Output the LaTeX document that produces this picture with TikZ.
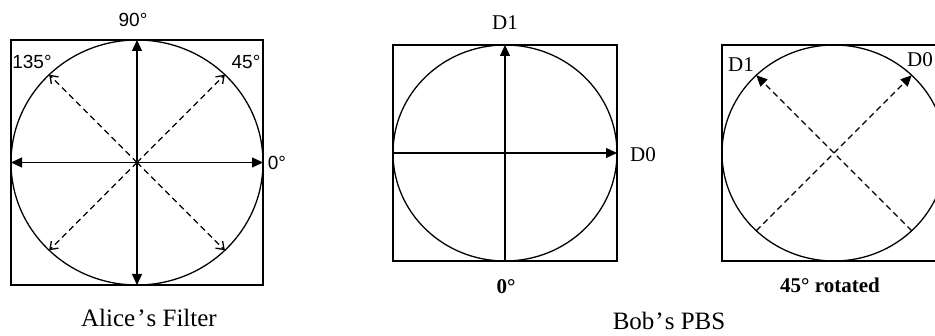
\documentclass[tikz,border=0pt]{standalone}
\usepackage{fontspec}
\setmainfont{Liberation Serif}
\newfontfamily\arialfont{Liberation Sans}
\usetikzlibrary{arrows.meta,shapes.geometric}
\tikzset{
  frame/.style={draw, line width=1.3pt, inner sep=0pt, outer sep=0pt},
  ring/.style={draw, ellipse, line width=1.3pt, inner sep=0pt, outer sep=0pt},
  solidarrow/.style={line width=1.2pt, -{Triangle[length=11pt,width=10pt]}},
  bothsolid/.style={line width=1.2pt, {Triangle[length=11pt,width=10pt]}-{Triangle[length=11pt,width=10pt]}},
  dasharrow/.style={line width=1.3pt, dash pattern=on 6pt off 4pt, -{Straight Barb[length=7pt,width=10pt]}},
  dashfilled/.style={line width=1.3pt, dash pattern=on 6pt off 4pt, -{Triangle[length=11pt,width=10pt]}},
  alab/.style={font=\arialfont\fontsize{19}{19}\selectfont, inner sep=0pt},
  dlab/.style={font=\fontsize{21}{21}\selectfont, inner sep=0pt},
  blab/.style={font=\bfseries\fontsize{21}{21}\selectfont, inner sep=0pt},
  caption/.style={font=\fontsize{25}{25}\selectfont, inner sep=0pt}
}
\begin{document}
\begin{tikzpicture}[x=1pt,y=-1pt]
\useasboundingbox (0,0) rectangle (935,336);
\clip (0,0) rectangle (935,336);
% ---------- Alice ----------
\node[frame, minimum width=252pt, minimum height=245pt] (abox) at (137,162.5) {};
\node[ring, minimum width=252pt, minimum height=245pt] (aring) at (137,162.5) {};
\coordinate (ac) at (137,162.5);
\draw[bothsolid] (aring.west) -- (aring.east);
\draw[bothsolid] (aring.south) -- (aring.north);
\draw[dasharrow] (ac) -- (aring.45);
\draw[dasharrow] (ac) -- (aring.135);
\draw[dasharrow] (ac) -- (aring.225);
\draw[dasharrow] (ac) -- (aring.315);
\node[alab] (a90) at (133,20) {90°};
\node[alab] (a135) at (32,62) {135°};
\node[alab] (a45) at (246,62) {45°};
\node[alab] (a0) at (277,163) {0°};
\node[caption] (acap) at (149,318) {Alice\kern2pt’\kern1pt s Filter};
% ---------- Bob box 1 ----------
\node[frame, minimum width=224pt, minimum height=216pt] (bbox) at (505,153) {};
\node[ring, minimum width=224pt, minimum height=216pt] (bring) at (505,153) {};
\draw[solidarrow] (bring.south) -- (bring.north);
\draw[solidarrow] (bring.west) -- (bring.east);
\node[dlab] (bd1) at (505,23) {D1};
\node[dlab] (bd0) at (643,155) {D0};
\node[blab] (b0) at (506,287) {0°};
% ---------- Bob box 2 ----------
\node[frame, minimum width=224pt, minimum height=216pt] (cbox) at (834,153) {};
\node[ring, minimum width=224pt, minimum height=216pt] (cring) at (834,153) {};
\draw[dashfilled] (cring.225) -- (cring.45);
\draw[dashfilled] (cring.315) -- (cring.135);
\node[dlab] (cd1) at (741,65) {D1};
\node[dlab] (cd0) at (920,60) {D0};
\node[blab] (c45) at (830,285) {45° rotated};
\node[caption] (bcap) at (669,321) {Bob\kern1pt’\kern1pt s PBS};
\end{tikzpicture}
\end{document}
